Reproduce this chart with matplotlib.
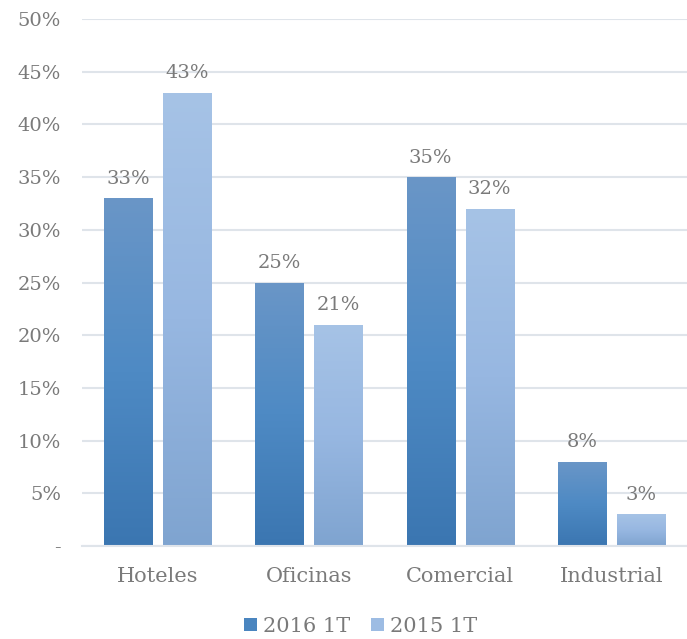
import numpy as np
import matplotlib.pyplot as plt
from matplotlib.colors import LinearSegmentedColormap
from matplotlib.patches import Patch

categorias = ["Hoteles", "Oficinas", "Comercial", "Industrial"]
serie_2016 = [33, 25, 35, 8]
serie_2015 = [43, 21, 32, 3]
series = ["2016 1T", "2015 1T"]
yticks = [0, 5, 10, 15, 20, 25, 30, 35, 40, 45, 50]
ytick_labels = ["-", "5%", "10%", "15%", "20%", "25%", "30%", "35%", "40%", "45%", "50%"]

gris = "#7a7a7a"
plt.rcParams['font.family'] = ['DejaVu Serif']

# gradient colours per series: (bottom, middle, top)
grad_2016 = ["#3b76b1", "#4e8ac4", "#6a96c7"]
grad_2015 = ["#7fa4d0", "#97b7e1", "#a6c3e6"]

fig = plt.figure(figsize=(6.87, 6.39), dpi=100)
ax = fig.add_axes([82 / 687, 93 / 639, 605 / 687, 527 / 639])

x = np.arange(len(categorias))
ancho = 0.318
sep = 0.073


def barras_degradado(pos, vals, colores):
    cmap = LinearSegmentedColormap.from_list("g", colores)
    grad = np.linspace(0, 1, 256).reshape(-1, 1)
    bars = ax.bar(pos, vals, ancho, color="none", zorder=2)
    for b in bars:
        bx, by = b.get_x(), b.get_y()
        w, h = b.get_width(), b.get_height()
        im = ax.imshow(grad, cmap=cmap, origin="lower", aspect="auto",
                       extent=[bx, bx + w, by, by + h], zorder=2)
        im.set_clip_path(b)
    return bars


b1 = barras_degradado(x - (ancho + sep) / 2, serie_2016, grad_2016)
b2 = barras_degradado(x + (ancho + sep) / 2, serie_2015, grad_2015)

for bars, vals in ((b1, serie_2016), (b2, serie_2015)):
    for b, v in zip(bars, vals):
        ax.text(b.get_x() + b.get_width() / 2, v + 1.0, f"{v}%",
                ha="center", va="bottom", fontsize=14, color=gris)

ax.set_xlim(-0.5, len(categorias) - 0.5)
ax.set_ylim(0, 50)
ax.set_yticks(yticks)
ax.set_yticklabels(ytick_labels)
ax.set_xticks(x)
ax.set_xticklabels(categorias)
ax.tick_params(axis="both", length=0, labelsize=14, colors=gris)
ax.tick_params(axis="x", labelsize=15, pad=15)
ax.tick_params(axis="y", pad=15)
for lbl in ax.get_yticklabels():
    lbl.set_horizontalalignment("right")
ax.yaxis.grid(True, color="#dfe4ea", linewidth=1.5, zorder=0)
ax.set_axisbelow(True)
for s in ["top", "right", "left"]:
    ax.spines[s].set_visible(False)
ax.spines["bottom"].set_color("#dfe4ea")
ax.spines["bottom"].set_linewidth(1.5)

handles = [Patch(facecolor="#4a85bf"), Patch(facecolor="#9dbce3")]
fig.legend(handles, series, loc="lower center", bbox_to_anchor=(0.525, -0.025),
           ncol=2, frameon=False, fontsize=15, labelcolor=gris,
           handlelength=0.6, handleheight=0.6, handletextpad=0.3,
           columnspacing=1.0)

fig.savefig("out.png", dpi=100)
